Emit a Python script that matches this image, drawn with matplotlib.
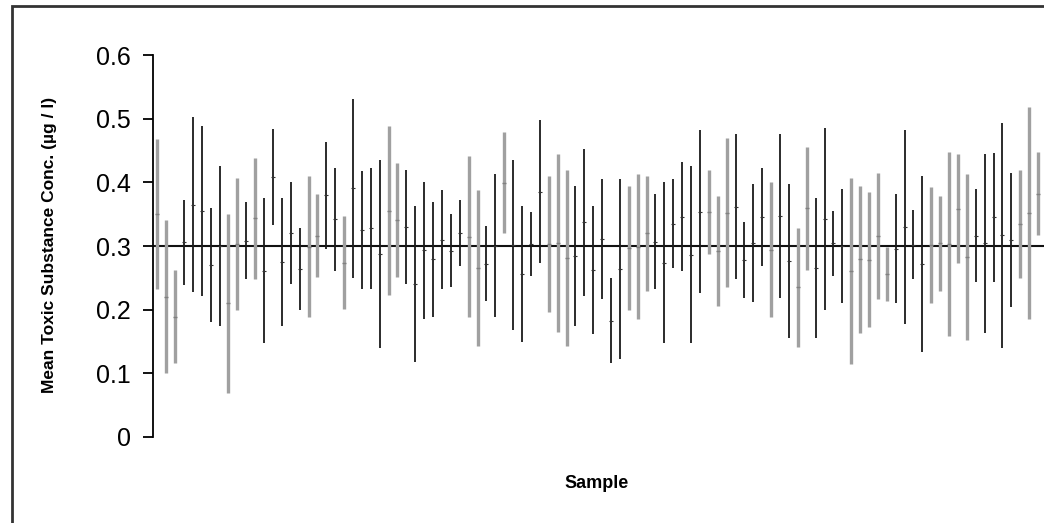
import numpy as np
import matplotlib.pyplot as plt
from matplotlib.patches import Rectangle

plt.rcParams['font.family'] = ['Liberation Sans', 'DejaVu Sans']

# Upper / lower interval limits for each sample
upper = [0.468, 0.341, 0.262, 0.372, 0.502, 0.489, 0.359, 0.426, 0.351, 0.407,
         0.369, 0.439, 0.376, 0.483, 0.376, 0.401, 0.329, 0.410, 0.381, 0.464,
         0.423, 0.347, 0.531, 0.418, 0.423, 0.435, 0.488, 0.431, 0.419, 0.363,
         0.401, 0.369, 0.388, 0.350, 0.372, 0.441, 0.388, 0.331, 0.413, 0.479,
         0.435, 0.363, 0.354, 0.498, 0.410, 0.444, 0.419, 0.395, 0.452, 0.363,
         0.405, 0.249, 0.405, 0.394, 0.413, 0.410, 0.381, 0.401, 0.405, 0.432,
         0.426, 0.482, 0.419, 0.379, 0.470, 0.476, 0.338, 0.397, 0.423, 0.401,
         0.476, 0.397, 0.329, 0.455, 0.376, 0.486, 0.355, 0.389, 0.407, 0.395,
         0.385, 0.414, 0.299, 0.381, 0.482, 0.356, 0.410, 0.392, 0.379, 0.447,
         0.444, 0.413, 0.389, 0.444, 0.446, 0.493, 0.414, 0.419, 0.518, 0.447]
lower = [0.232, 0.100, 0.116, 0.239, 0.228, 0.222, 0.181, 0.174, 0.069, 0.200,
         0.248, 0.248, 0.147, 0.333, 0.174, 0.240, 0.200, 0.188, 0.251, 0.295,
         0.261, 0.201, 0.250, 0.232, 0.232, 0.140, 0.223, 0.251, 0.240, 0.118,
         0.185, 0.189, 0.232, 0.235, 0.268, 0.188, 0.143, 0.213, 0.188, 0.320,
         0.168, 0.150, 0.253, 0.273, 0.197, 0.165, 0.143, 0.174, 0.222, 0.162,
         0.216, 0.116, 0.123, 0.200, 0.185, 0.230, 0.232, 0.147, 0.265, 0.260,
         0.147, 0.226, 0.288, 0.206, 0.235, 0.248, 0.219, 0.212, 0.268, 0.188,
         0.219, 0.156, 0.142, 0.263, 0.156, 0.200, 0.253, 0.210, 0.115, 0.163,
         0.172, 0.216, 0.213, 0.210, 0.177, 0.248, 0.134, 0.210, 0.229, 0.159,
         0.273, 0.153, 0.243, 0.164, 0.244, 0.140, 0.204, 0.250, 0.185, 0.317]
# 1 = black interval, 0 = grey interval
shade = [0, 0, 0, 1, 1, 1, 1, 1, 0, 0,
         1, 0, 1, 1, 1, 1, 1, 0, 0, 1,
         1, 0, 1, 1, 1, 1, 0, 0, 1, 1,
         1, 1, 1, 1, 1, 0, 0, 1, 1, 0,
         1, 1, 1, 1, 0, 0, 0, 1, 1, 1,
         1, 1, 1, 0, 0, 0, 1, 1, 1, 1,
         1, 1, 0, 0, 0, 1, 1, 1, 1, 0,
         1, 1, 0, 0, 1, 1, 1, 1, 0, 0,
         0, 0, 0, 1, 1, 1, 1, 0, 0, 0,
         0, 0, 1, 1, 1, 1, 1, 0, 0, 0]
target = 0.3
yticks = [0, 0.1, 0.2, 0.3, 0.4, 0.5, 0.6]

upper = np.array(upper)
lower = np.array(lower)
shade = np.array(shade)
x = np.arange(1, len(upper) + 1)
mean = (upper + lower) / 2

fig = plt.figure(figsize=(10.44, 5.23), dpi=100)
ax = fig.add_axes([153 / 1044, 86 / 523, 1 - 153 / 1044, 382 / 523])

ax.axhline(target, color='#111111', lw=1.5, zorder=1)

g = shade == 0
ax.vlines(x[g], lower[g], upper[g], color='#a0a0a0', lw=2.4, zorder=2)
ax.plot(x[g], mean[g], ls='none', marker='_', ms=3, mew=1, color='#808080', zorder=3)
b = shade == 1
ax.vlines(x[b], lower[b], upper[b], color='#1a1a1a', lw=1.3, zorder=2)
ax.plot(x[b], mean[b], ls='none', marker='_', ms=3, mew=0.8, color='#333333', zorder=3)

ax.set_xlim(0.52, 100.67)
ax.set_ylim(0, 0.6)
ax.set_yticks(yticks)
ax.set_yticklabels(['0', '0.1', '0.2', '0.3', '0.4', '0.5', '0.6'], fontsize=18)
ax.set_xticks([])
for s in ['top', 'right', 'bottom']:
    ax.spines[s].set_visible(False)
ax.spines['left'].set_linewidth(1.3)
ax.tick_params(axis='y', direction='out', length=7, width=1.3, pad=9)

fig.text(50 / 1044, 1 - 245 / 523, 'Mean Toxic Substance Conc. (\u00b5g / l)',
         rotation=90, ha='center', va='center', fontsize=12.5, fontweight='bold')
fig.text(597 / 1044, 1 - 483 / 523, 'Sample', ha='center', va='center',
         fontsize=13, fontweight='bold')

# outer frame (left and top edges visible)
fig.add_artist(Rectangle((12 / 1044, -0.1), 1.2, 1.1 - 6 / 523,
                         transform=fig.transFigure, fill=False,
                         lw=2, edgecolor='#333333'))

plt.savefig('out.png', dpi=100)
